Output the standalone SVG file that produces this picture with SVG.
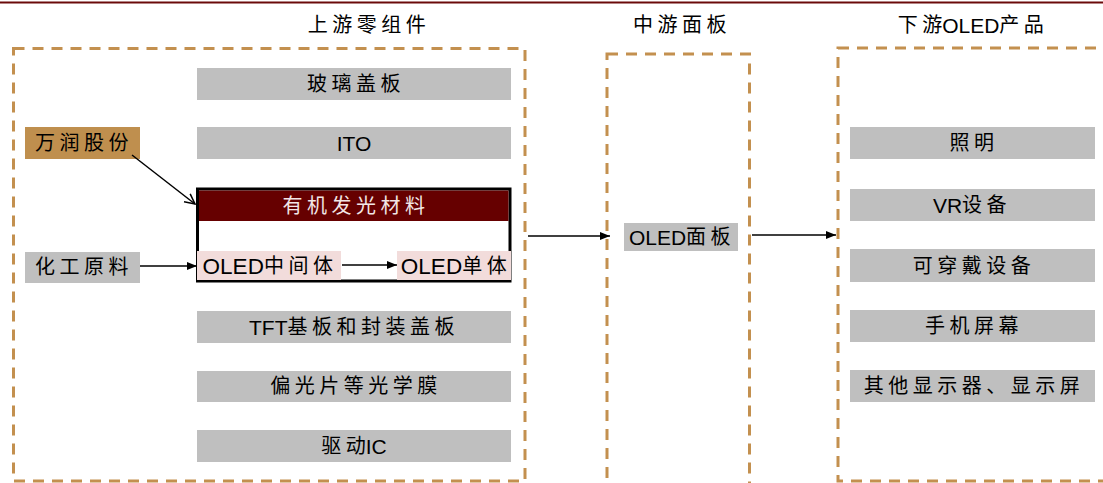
<svg xmlns="http://www.w3.org/2000/svg" width="1103" height="483" viewBox="0 0 1103 483">
<style>
.t{font-family:"Liberation Sans","Noto Sans CJK SC",sans-serif;font-size:21px;fill:#000;text-anchor:middle;dominant-baseline:central}
.c{font-size:20px;letter-spacing:4.5px}
.n{font-size:20px}
.big{font-size:22.5px}
.gray{fill:#BFBFBF}
.dash{fill:none;stroke:#C3904F;stroke-width:3;stroke-dasharray:11 8}
.ln{stroke:#000;stroke-width:1.5;fill:none}
</style>
<defs>
<marker id="ah" viewBox="0 0 10 10" refX="10" refY="5" markerWidth="10" markerHeight="10" markerUnits="userSpaceOnUse" orient="auto">
<path d="M0,1 L10,5 L0,9 Z" fill="#000"/>
</marker>
<marker id="va" viewBox="0 0 12 12" refX="11" refY="6" markerWidth="12" markerHeight="12" markerUnits="userSpaceOnUse" orient="auto">
<path d="M1,1 L11,6 L1,11" fill="none" stroke="#000" stroke-width="1.5"/>
</marker>
</defs>
<rect width="1103" height="483" fill="#fff"/>
<line x1="0" y1="2.5" x2="1103" y2="2.5" stroke="#6B0A0A" stroke-width="2"/>

<g id="titles">
<text class="t c" x="369" y="25">上游零组件</text>
<text class="t c" x="682" y="25">中游面板</text>
<text class="t" x="973" y="25"><tspan class="c">下</tspan><tspan class="n">游</tspan>OLED<tspan class="c">产品</tspan></text>
</g>

<g id="groups">
<rect class="dash" x="13.5" y="48.5" width="511.5" height="432.5"/>
<rect class="dash" x="607" y="54" width="142.5" height="440"/>
<rect class="dash" x="838" y="48" width="280" height="433"/>
</g>

<g id="glass"><rect class="gray" x="197" y="68" width="314" height="32"/><text class="t c" x="356" y="84">玻璃盖板</text></g>
<g id="ito"><rect class="gray" x="197" y="127" width="314" height="32"/><text class="t" x="354" y="143">ITO</text></g>
<g id="organic">
<rect x="197.5" y="189" width="312.5" height="92" fill="#fff" stroke="#000" stroke-width="3"/>
<rect x="199" y="190.5" width="309.5" height="30.5" fill="#660000"/>
<text class="t c" x="356" y="206" style="fill:#F2E6E6">有机发光材料</text>
</g>
<g id="intermediate"><rect x="197" y="251" width="144" height="29" fill="#F2DCDB"/><text class="t big" x="270" y="266">OLED<tspan class="c">中间体</tspan></text></g>
<g id="monomer"><rect x="397" y="251" width="114" height="29" fill="#F2DCDB"/><text class="t big" x="456" y="266">OLED<tspan class="c">单体</tspan></text></g>
<g id="wanrun"><rect x="25" y="127" width="115" height="32" fill="#BF8F4E"/><text class="t c" x="84" y="143">万润股份</text></g>
<g id="chem"><rect class="gray" x="25" y="252" width="115" height="31"/><text class="t c" x="84" y="267">化工原料</text></g>
<g id="tft"><rect class="gray" x="197" y="311" width="314" height="32"/><text class="t" x="354" y="327">TFT<tspan class="c">基板和封装盖板</tspan></text></g>
<g id="polar"><rect class="gray" x="197" y="371" width="314" height="31"/><text class="t c" x="356" y="386">偏光片等光学膜</text></g>
<g id="driver"><rect class="gray" x="197" y="430" width="314" height="32"/><text class="t" x="354" y="446"><tspan class="c">驱</tspan><tspan class="n">动</tspan>IC</text></g>

<g id="panel"><rect class="gray" x="624" y="223" width="114" height="28"/><text class="t" x="682" y="237">OLED<tspan class="c">面板</tspan></text></g>

<g id="lighting"><rect class="gray" x="850" y="127" width="245" height="32"/><text class="t c" x="974" y="143">照明</text></g>
<g id="vr"><rect class="gray" x="850" y="189" width="245" height="32"/><text class="t" x="972" y="205">VR<tspan class="c">设备</tspan></text></g>
<g id="wearable"><rect class="gray" x="850" y="249" width="245" height="33"/><text class="t c" x="974" y="266">可穿戴设备</text></g>
<g id="phone"><rect class="gray" x="850" y="310" width="245" height="32"/><text class="t c" x="974" y="326">手机屏幕</text></g>
<g id="other"><rect class="gray" x="850" y="370" width="245" height="32"/><text class="t c" x="974" y="386">其他显示器、显示屏</text></g>

<g id="connectors">
<line class="ln" x1="132" y1="155" x2="195" y2="204" marker-end="url(#va)"/>
<line class="ln" x1="140" y1="266" x2="197" y2="266" marker-end="url(#ah)"/>
<line class="ln" x1="342" y1="265" x2="397" y2="265" marker-end="url(#ah)"/>
<line class="ln" x1="528" y1="236" x2="610" y2="236" marker-end="url(#ah)"/>
<line class="ln" x1="752" y1="235" x2="836" y2="235" marker-end="url(#ah)"/>
</g>
</svg>
